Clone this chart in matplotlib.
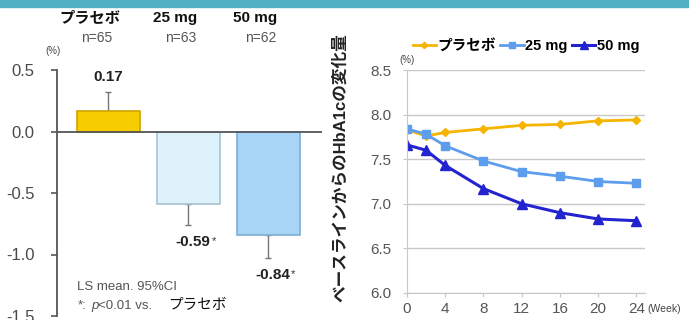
import numpy as np
import matplotlib.pyplot as plt

plt.rcParams['font.family'] = ['Liberation Sans', 'Noto Sans CJK JP', 'DejaVu Sans']

# LS mean change from baseline (%) with one-sided 95% CI whisker ends
groups = ['プラセボ', '25 mg', '50 mg']
n_labels = ['n=65', 'n=63', 'n=62']
ls_mean = [0.17, -0.59, -0.84]
ci_end = [0.32, -0.76, -1.03]
signif = [False, True, True]

# HbA1c time course (%)
weeks = [0, 2, 4, 8, 12, 16, 20, 24]
hba1c_placebo = [7.83, 7.76, 7.80, 7.84, 7.88, 7.89, 7.93, 7.94]
hba1c_25 = [7.84, 7.78, 7.65, 7.48, 7.36, 7.31, 7.25, 7.23]
hba1c_50 = [7.66, 7.60, 7.43, 7.17, 7.00, 6.90, 6.83, 6.81]

W, H = 689, 320
fig = plt.figure(figsize=(W / 100, H / 100), dpi=100)


def px(x, y):
    return x / W, 1 - y / H


# teal band along the top edge
fig.patches.append(plt.Rectangle((0, 1 - 7 / H), 1, 7 / H, transform=fig.transFigure,
                                 color='#4fb1c1', zorder=0))

# ---- left: bar chart ----
ax = fig.add_axes([57 / W, 4 / H, (322 - 57) / W, 246 / H])
x = np.arange(len(groups))
faces = ['#f7cd00', '#ddf2fb', '#a8d4f6']
edges = ['#cfa400', '#a8c2d2', '#7eaed6']
ax.bar(x, ls_mean, width=0.79, color=faces, edgecolor=edges, linewidth=1.2, zorder=2)
for i in range(len(groups)):
    lo = ls_mean[i] - ci_end[i] if ci_end[i] < ls_mean[i] else 0
    hi = ci_end[i] - ls_mean[i] if ci_end[i] > ls_mean[i] else 0
    ax.errorbar(x[i], ls_mean[i], yerr=[[lo], [hi]], color='#777777', lw=1,
                capsize=2.5, capthick=1, zorder=1)
ax.axhline(0, color='#555555', lw=1.3, zorder=3)
ax.set_xlim(-0.644, 2.67)
ax.set_ylim(-1.5, 0.5)
ax.set_yticks([0.5, 0.0, -0.5, -1.0, -1.5])
ax.set_yticklabels(['0.5', '0.0', '-0.5', '-1.0', '-1.5'])
ax.set_xticks([])
for s in ['top', 'right', 'bottom']:
    ax.spines[s].set_visible(False)
ax.spines['left'].set_color('#555555')
ax.spines['left'].set_linewidth(1.3)
ax.tick_params(axis='y', labelsize=12, colors='#555555', length=4, width=1.2, pad=12)
ax.tick_params(axis='y', labelcolor='#4a4a4a')

for i in range(len(groups)):
    if ls_mean[i] > 0:
        ax.text(x[i], ci_end[i] + 0.07, f'{ls_mean[i]:.2f}', ha='center', va='bottom',
                fontsize=11, fontweight='bold', color='#222222')
    else:
        t = ax.text(x[i] + 0.05, ci_end[i] - 0.08, f'{ls_mean[i]:.2f}', ha='center', va='top',
                    fontsize=11, fontweight='bold', color='#222222')
        if signif[i]:
            ax.annotate('*', xy=(1, 1), xycoords=t, xytext=(1, -1), textcoords='offset points',
                        ha='left', va='top', fontsize=8, color='#333333')

fig.text(*px(45, 56), '(%)', fontsize=7, color='#444444', ha='left', va='bottom')
fig.text(*px(77, 287), 'LS mean. 95%CI', fontsize=9.5, color='#555555', va='center')
fig.text(*px(78, 306), '*:', fontsize=9.5, color='#555555', va='center')
fig.text(*px(91, 306), 'p', fontsize=9.5, color='#555555', va='center', style='italic')
fig.text(*px(98, 306), '<0.01 vs.', fontsize=9.5, color='#555555', va='center')
fig.text(*px(168, 305), 'プラセボ', fontsize=10.5, color='#111111', va='center')

# group headers
head_x = [90, 175, 255]
n_x = [97, 181, 261]
for i in range(len(groups)):
    fig.text(*px(head_x[i], 18), groups[i], ha='center', va='center',
             fontsize=11, fontweight='bold', color='#111111')
    fig.text(*px(n_x[i], 38), n_labels[i], ha='center', va='center',
             fontsize=10, color='#555555')

# ---- right: line chart ----
ax2 = fig.add_axes([407 / W, 27 / H, (645 - 407) / W, (293 - 70) / H])
ax2.plot(weeks, hba1c_placebo, color='#f5b400', marker='D', ms=4, lw=2, label='プラセボ')
ax2.plot(weeks, hba1c_25, color='#5d9ded', marker='s', ms=6, lw=2, label='25 mg')
ax2.plot(weeks, hba1c_50, color='#2323cf', marker='^', ms=6.5, lw=2.2, label='50 mg')
ax2.set_xlim(0, 24.9)
ax2.set_ylim(6.0, 8.5)
ax2.set_xticks([0, 4, 8, 12, 16, 20, 24])
ax2.set_yticks([6.0, 6.5, 7.0, 7.5, 8.0, 8.5])
ax2.set_yticklabels(['6.0', '6.5', '7.0', '7.5', '8.0', '8.5'])
ax2.grid(axis='y', color='#c8c8c8', lw=1)
ax2.set_axisbelow(True)
for s in ['top', 'right']:
    ax2.spines[s].set_visible(False)
for s in ['left', 'bottom']:
    ax2.spines[s].set_color('#c8c8c8')
ax2.tick_params(axis='both', labelsize=11, colors='#c8c8c8', labelcolor='#555555', length=3)
ax2.tick_params(axis='y', pad=8)
ax2.text(-0.8, 8.56, '(%)', fontsize=7, color='#444444', ha='left', va='bottom')
ax2.text(25.2, 5.88, '(Week)', fontsize=7.5, color='#444444', ha='left', va='top', clip_on=False)
leg = ax2.legend(loc='lower center', bbox_to_anchor=(0.5, 1.05), ncol=3, frameon=False,
                 handlelength=1.6, handletextpad=0.1, columnspacing=0.3, borderaxespad=0,
                 markerscale=0.8, prop={'weight': 'bold', 'size': 10.5})

fig.text(*px(340, 168), 'ベースラインからのHbA1cの変化量', rotation=90, ha='center',
         va='center', fontsize=12, fontweight='bold', color='#222222')

fig.savefig('out.png', dpi=100)
